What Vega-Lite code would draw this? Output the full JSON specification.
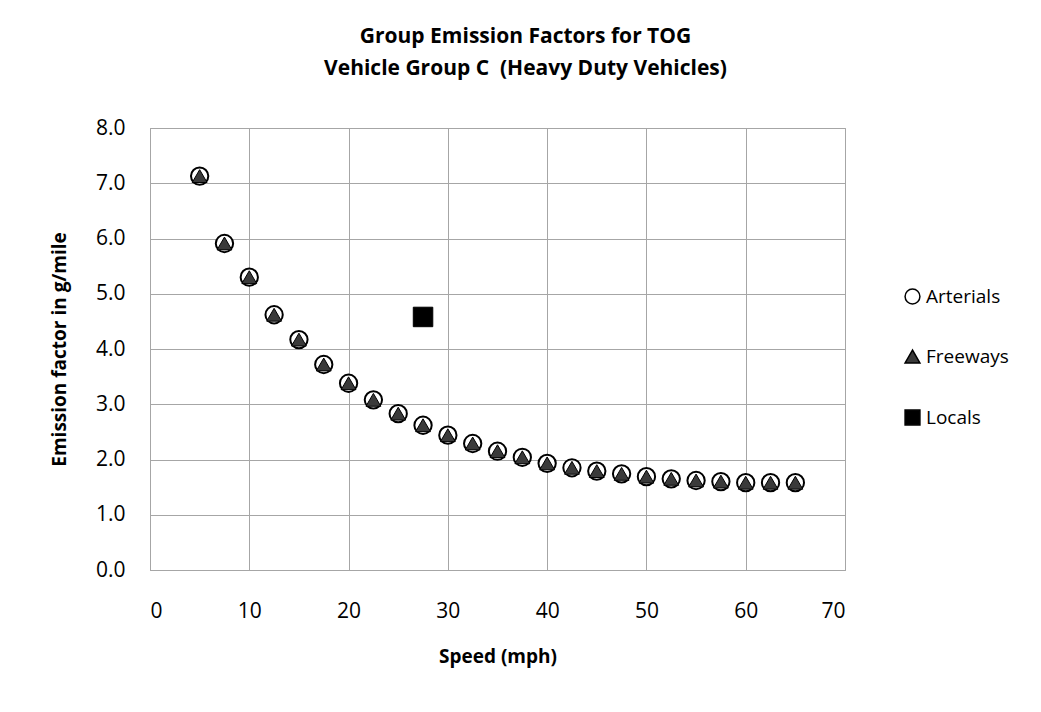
{
  "$schema": "https://vega.github.io/schema/vega-lite/v6.json",
  "width": 695,
  "height": 442,
  "autosize": {"type": "none"},
  "padding": {"left": 150, "top": 128, "right": 196, "bottom": 142},
  "background": "white",
  "title": {
    "text": ["Group Emission Factors for TOG", "Vehicle Group C\u00a0 (Heavy Duty Vehicles)"],
    "font": "Open Sans",
    "fontSize": 21,
    "fontWeight": "bold",
    "color": "black",
    "anchor": "middle",
    "lineHeight": 32,
    "offset": 38,
    "dx": 28
  },
  "data": {
    "values": [
      {"speed": 5, "ef": 7.13, "group": "Arterials"},
      {"speed": 7.5, "ef": 5.91, "group": "Arterials"},
      {"speed": 10, "ef": 5.30, "group": "Arterials"},
      {"speed": 12.5, "ef": 4.62, "group": "Arterials"},
      {"speed": 15, "ef": 4.17, "group": "Arterials"},
      {"speed": 17.5, "ef": 3.72, "group": "Arterials"},
      {"speed": 20, "ef": 3.38, "group": "Arterials"},
      {"speed": 22.5, "ef": 3.08, "group": "Arterials"},
      {"speed": 25, "ef": 2.83, "group": "Arterials"},
      {"speed": 27.5, "ef": 2.62, "group": "Arterials"},
      {"speed": 30, "ef": 2.44, "group": "Arterials"},
      {"speed": 32.5, "ef": 2.29, "group": "Arterials"},
      {"speed": 35, "ef": 2.15, "group": "Arterials"},
      {"speed": 37.5, "ef": 2.04, "group": "Arterials"},
      {"speed": 40, "ef": 1.93, "group": "Arterials"},
      {"speed": 42.5, "ef": 1.85, "group": "Arterials"},
      {"speed": 45, "ef": 1.79, "group": "Arterials"},
      {"speed": 47.5, "ef": 1.74, "group": "Arterials"},
      {"speed": 50, "ef": 1.69, "group": "Arterials"},
      {"speed": 52.5, "ef": 1.65, "group": "Arterials"},
      {"speed": 55, "ef": 1.62, "group": "Arterials"},
      {"speed": 57.5, "ef": 1.60, "group": "Arterials"},
      {"speed": 60, "ef": 1.58, "group": "Arterials"},
      {"speed": 62.5, "ef": 1.58, "group": "Arterials"},
      {"speed": 65, "ef": 1.58, "group": "Arterials"},
      {"speed": 5, "ef": 7.13, "group": "Freeways"},
      {"speed": 7.5, "ef": 5.91, "group": "Freeways"},
      {"speed": 10, "ef": 5.30, "group": "Freeways"},
      {"speed": 12.5, "ef": 4.62, "group": "Freeways"},
      {"speed": 15, "ef": 4.17, "group": "Freeways"},
      {"speed": 17.5, "ef": 3.72, "group": "Freeways"},
      {"speed": 20, "ef": 3.38, "group": "Freeways"},
      {"speed": 22.5, "ef": 3.08, "group": "Freeways"},
      {"speed": 25, "ef": 2.83, "group": "Freeways"},
      {"speed": 27.5, "ef": 2.62, "group": "Freeways"},
      {"speed": 30, "ef": 2.44, "group": "Freeways"},
      {"speed": 32.5, "ef": 2.29, "group": "Freeways"},
      {"speed": 35, "ef": 2.15, "group": "Freeways"},
      {"speed": 37.5, "ef": 2.04, "group": "Freeways"},
      {"speed": 40, "ef": 1.93, "group": "Freeways"},
      {"speed": 42.5, "ef": 1.85, "group": "Freeways"},
      {"speed": 45, "ef": 1.79, "group": "Freeways"},
      {"speed": 47.5, "ef": 1.74, "group": "Freeways"},
      {"speed": 50, "ef": 1.69, "group": "Freeways"},
      {"speed": 52.5, "ef": 1.65, "group": "Freeways"},
      {"speed": 55, "ef": 1.62, "group": "Freeways"},
      {"speed": 57.5, "ef": 1.60, "group": "Freeways"},
      {"speed": 60, "ef": 1.58, "group": "Freeways"},
      {"speed": 62.5, "ef": 1.58, "group": "Freeways"},
      {"speed": 65, "ef": 1.58, "group": "Freeways"},
      {"speed": 27.5, "ef": 4.58, "group": "Locals"}
    ]
  },
  "encoding": {
    "x": {
      "field": "speed",
      "type": "quantitative",
      "scale": {"domain": [0, 70], "nice": false, "zero": true},
      "axis": {
        "title": "Speed (mph)",
        "values": [0, 10, 20, 30, 40, 50, 60, 70],
        "labelPadding": 30,
        "titlePadding": 26
      }
    },
    "y": {
      "field": "ef",
      "type": "quantitative",
      "scale": {"domain": [0, 8], "nice": false},
      "axis": {
        "title": "Emission factor in g/mile",
        "values": [0, 1, 2, 3, 4, 5, 6, 7, 8],
        "format": ".1f",
        "labelPadding": 25,
        "titlePadding": 26
      }
    },
    "shape": {
      "field": "group",
      "type": "nominal",
      "scale": {"domain": ["Arterials", "Freeways", "Locals"], "range": ["circle", "triangle-up", "square"]},
      "legend": {
        "title": null,
        "orient": "none",
        "legendX": 753,
        "legendY": 159,
        "padding": 0,
        "labelFont": "Open Sans",
        "labelFontSize": 19,
        "labelColor": "black",
        "labelOffset": 4,
        "symbolSize": 220,
        "rowPadding": 40,
        "encode": {
          "symbols": {
            "update": {
              "stroke": {"value": "black"},
              "strokeWidth": {"value": 1.2}
            }
          }
        }
      }
    },
    "fill": {
      "field": "group",
      "type": "nominal",
      "scale": {"domain": ["Arterials", "Freeways", "Locals"], "range": ["#ffffff", "#3a3a3a", "#000000"]},
      "legend": {"title": null, "orient": "none", "legendX": 753, "legendY": 159}
    }
  },
  "layer": [
    {
      "transform": [{"filter": "datum.group === 'Arterials'"}],
      "mark": {"type": "point", "filled": true, "stroke": "black", "strokeWidth": 2, "opacity": 1, "size": 300}
    },
    {
      "transform": [{"filter": "datum.group === 'Freeways'"}],
      "mark": {"type": "point", "filled": true, "stroke": "black", "strokeWidth": 1, "opacity": 1, "size": 220}
    },
    {
      "transform": [{"filter": "datum.group === 'Locals'"}],
      "mark": {"type": "point", "filled": true, "stroke": "black", "strokeWidth": 1, "opacity": 1, "size": 380}
    }
  ],
  "config": {
    "font": "Open Sans",
    "view": {"stroke": "#a6a6a6", "strokeWidth": 1},
    "axis": {
      "labelFont": "Open Sans",
      "labelFontSize": 21,
      "labelColor": "black",
      "titleFont": "Open Sans",
      "titleFontSize": 19,
      "titleFontWeight": "bold",
      "titleColor": "black",
      "ticks": false,
      "domainColor": "#a6a6a6",
      "gridColor": "#a6a6a6",
      "gridOpacity": 1,
      "gridWidth": 1
    }
  }
}
